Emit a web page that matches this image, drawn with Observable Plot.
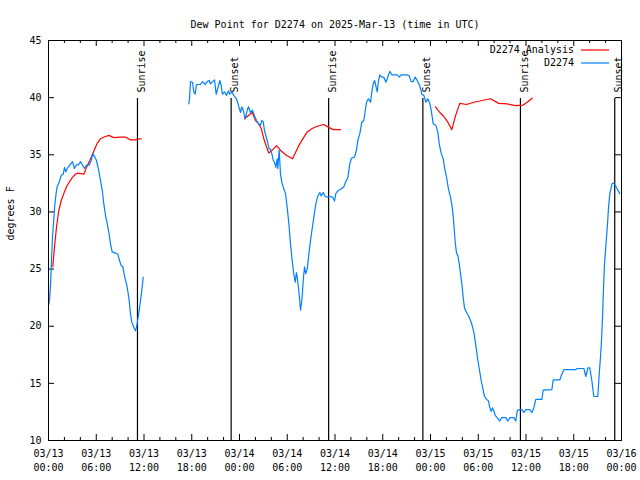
<!DOCTYPE html>
<html>
<head>
<meta charset="utf-8">
<script src="https://cdn.jsdelivr.net/npm/d3@7"></script>
<script src="https://cdn.jsdelivr.net/npm/@observablehq/plot@0.6"></script>
<style>
  html, body { margin: 0; padding: 0; background: white; }
</style>
</head>
<body>
<div id="chart"></div>
<script>
// ---- Data (hours after 2025-03-13 00:00 UTC, dew point in degrees F) ----
const titleText = "Dew Point for D2274 on 2025-Mar-13 (time in UTC)";
const yLabelText = "degrees F";
const seriesNames = ["D2274 Analysis", "D2274"];
const seriesColors = ["#ff0000", "#0080ff"];

const analysisSeg1 = [[0.54,25.2],[0.75,26.9],[1.01,28.7],[1.29,30.1],[1.60,31.0],[1.92,31.6],[2.26,32.2],[2.60,32.6],[2.98,33.0],[3.39,33.3],[3.68,33.4],[4.44,33.3],[4.78,33.9],[5.19,34.5],[5.69,35.3],[6.12,36.0],[6.53,36.4],[7.16,36.6],[7.58,36.7],[8.21,36.5],[9.05,36.55],[9.68,36.55],[10.30,36.3],[10.93,36.3],[11.35,36.4],[11.65,36.4]];
const analysisSeg2 = [[24.63,38.15],[25.04,38.4],[25.60,38.7],[26.01,38.0],[26.43,37.7],[26.73,37.3],[27.06,36.4],[27.39,35.7],[27.68,35.15],[28.11,35.4],[28.65,35.8],[29.15,35.4],[29.78,35.0],[30.66,34.65],[31.04,35.2],[31.45,35.8],[31.88,36.3],[32.51,37.0],[33.14,37.3],[33.76,37.5],[34.59,37.65],[35.22,37.4],[35.78,37.2],[36.69,37.2]];
const analysisSeg3 = [[48.63,39.2],[49.17,38.7],[49.67,38.35],[50.18,37.85],[50.68,37.2],[51.14,38.4],[51.68,39.5],[52.53,39.4],[53.44,39.6],[54.50,39.75],[55.54,39.9],[56.58,39.5],[57.64,39.45],[58.68,39.3],[59.65,39.35],[60.15,39.6],[60.78,39.95]];

const stationSeg1 = [[0.04,21.9],[0.16,22.5],[0.29,24.1],[0.38,25.75],[0.50,27.8],[0.67,29.4],[0.79,30.6],[0.97,31.7],[1.09,32.2],[1.34,32.6],[1.60,33.2],[1.85,33.3],[2.01,33.9],[2.17,33.5],[2.35,33.8],[2.68,34.1],[3.02,34.4],[3.27,33.8],[3.52,34.15],[3.77,34.1],[4.02,34.4],[4.27,34.1],[4.52,33.8],[4.78,34.1],[5.11,34.1],[5.37,34.5],[5.57,35.1],[5.82,34.8],[6.03,34.5],[6.32,33.6],[6.53,32.75],[6.75,31.9],[6.95,30.7],[7.16,29.7],[7.38,29.0],[7.58,28.2],[7.79,27.2],[8.00,26.5],[8.42,26.4],[8.71,26.3],[8.92,25.75],[9.14,25.3],[9.34,25.2],[9.55,24.4],[9.80,23.7],[9.96,23.1],[10.14,22.25],[10.30,21.1],[10.47,20.35],[10.72,19.9],[10.93,19.6],[11.06,19.9],[11.22,20.6],[11.40,21.4],[11.56,22.25],[11.72,23.1],[11.90,24.3]];
const stationSeg2 = [[17.63,39.45],[17.72,39.9],[17.84,41.4],[18.10,41.35],[18.26,40.5],[18.43,40.3],[18.60,41.15],[19.10,41.15],[19.35,41.4],[19.69,41.15],[19.94,41.4],[20.19,41.5],[20.36,41.2],[20.61,41.4],[20.86,41.55],[21.07,40.3],[21.27,40.8],[21.53,41.5],[21.70,41.05],[21.86,40.3],[22.12,40.5],[22.37,40.2],[22.62,40.6],[22.78,40.3],[23.03,40.5],[23.28,40.2],[23.62,39.9],[23.88,39.3],[24.13,38.7],[24.29,39.2],[24.47,38.9],[24.72,38.15],[24.97,38.9],[25.13,39.2],[25.38,38.7],[25.63,38.9],[25.89,38.4],[26.14,38.0],[26.39,37.7],[26.64,37.6],[26.80,38.0],[26.98,37.9],[27.14,37.1],[27.31,36.7],[27.48,36.25],[27.73,35.5],[27.90,35.5],[28.06,35.1],[28.24,34.5],[28.40,34.35],[28.56,33.9],[28.74,34.65],[28.81,33.8],[28.99,35.4],[29.15,33.3],[29.32,32.6],[29.57,32.0],[29.78,31.6],[29.99,30.4],[30.20,29.0],[30.41,27.2],[30.62,25.75],[30.82,24.6],[31.00,23.85],[31.16,24.7],[31.33,23.85],[31.50,22.8],[31.67,21.4],[31.83,22.25],[32.01,24.0],[32.17,25.2],[32.33,24.6],[32.51,25.0],[32.67,26.0],[32.92,27.5],[33.17,28.7],[33.34,29.55],[33.59,30.7],[33.84,31.4],[34.09,31.7],[34.27,31.4],[34.52,31.7],[34.77,31.35],[35.02,31.3],[35.35,31.35],[35.69,31.3],[35.94,30.95],[36.10,31.6],[36.44,31.9],[36.78,32.0],[37.11,32.2],[37.32,32.6],[37.61,33.0],[37.86,34.2],[38.07,34.7],[38.45,34.8],[38.70,35.4],[38.87,36.25],[39.12,36.85],[39.37,37.85],[39.62,38.0],[39.96,39.6],[40.21,39.9],[40.46,39.6],[40.63,40.5],[40.80,41.2],[40.97,41.5],[41.13,41.05],[41.31,40.5],[41.47,41.5],[41.63,42.0],[41.88,41.8],[42.13,41.8],[42.39,41.35],[42.64,41.8],[42.89,42.3],[43.14,42.0],[43.82,42.0],[44.07,41.8],[44.32,42.0],[45.07,42.0],[45.33,41.9],[45.58,41.4],[45.83,41.4],[46.08,41.8],[46.33,41.5],[46.58,41.15],[46.75,40.8],[46.91,40.3],[47.16,40.2],[47.41,39.6],[47.66,39.9],[47.91,39.5],[48.09,38.9],[48.34,37.7],[48.67,37.6],[48.92,37.0],[49.10,35.95],[49.35,35.1],[49.60,34.65],[49.76,33.9],[50.01,33.05],[50.26,32.0],[50.52,31.3],[50.73,30.4],[50.86,29.55],[50.98,28.5],[51.11,27.3],[51.27,26.4],[51.43,26.2],[51.61,25.5],[51.77,24.6],[51.94,23.7],[52.11,22.5],[52.27,21.6],[52.53,21.2],[52.78,20.9],[53.03,20.5],[53.24,20.06],[53.44,19.5],[53.66,18.5],[53.87,17.4],[54.12,16.3],[54.37,15.25],[54.62,14.4],[54.79,13.85],[55.04,13.6],[55.29,13.45],[55.45,12.9],[55.63,12.55],[55.79,12.85],[55.96,12.6],[56.13,12.2],[56.38,12.0],[56.71,11.7],[56.96,12.0],[57.46,12.0],[57.72,11.7],[57.97,12.0],[58.47,12.0],[58.72,11.7],[58.90,12.6],[59.15,12.7],[59.48,12.7],[59.73,12.45],[59.98,12.7],[60.48,12.7],[60.73,12.45],[60.98,12.85],[61.23,13.6],[61.99,13.6],[62.16,14.4],[63.25,14.45],[63.42,15.3],[64.25,15.3],[64.50,15.8],[64.76,16.2],[66.26,16.2],[66.44,16.3],[67.27,16.3],[67.52,15.6],[67.77,16.35],[68.02,16.35],[68.27,15.25],[68.52,13.85],[69.02,13.85],[69.20,15.8],[69.36,17.3],[69.49,18.75],[69.62,20.9],[69.74,23.4],[69.87,25.5],[69.99,26.6],[70.12,27.8],[70.25,29.0],[70.37,30.4],[70.53,31.6],[70.83,32.5],[71.03,32.5],[71.25,32.3],[71.46,32.0],[71.79,31.6]];

const sunEventHours = [11.18, 22.95, 35.2, 47.04, 59.3, 71.15];
const sunEventNames = ["Sunrise", "Sunset", "Sunrise", "Sunset", "Sunrise", "Sunset"];

const majorTickHours = [0, 6, 12, 18, 24, 30, 36, 42, 48, 54, 60, 66, 72];
const minorTickHours = [2, 4, 8, 10, 14, 16, 20, 22, 26, 28, 32, 34, 38, 40, 44, 46, 50, 52, 56, 58, 62, 64, 68, 70];
const yTickValues = [10, 15, 20, 25, 30, 35, 40, 45];

// ---- Build ----
const t0 = Date.UTC(2025, 2, 13);
const toDate = h => new Date(t0 + h * 3600000);
const flatten = segs => segs.flatMap((s, i) => s.map(([h, v]) => ({date: toDate(h), v, seg: i})));
const analysis = flatten([analysisSeg1, analysisSeg2, analysisSeg3]);
const station = flatten([stationSeg1, stationSeg2]);
const events = sunEventHours.map((h, i) => ({date: toDate(h), name: sunEventNames[i]}));
const fmt = d3.utcFormat("%m/%d\n%H:%M");

const W = 640, H = 480, mL = 48, mR = 19, mT = 40, mB = 40;
const fw = W - mL - mR, fh = H - mT - mB;

const chart = Plot.plot({
  width: W, height: H,
  marginLeft: mL, marginRight: mR, marginTop: mT, marginBottom: mB,
  style: {fontFamily: "'DejaVu Sans Mono', monospace", fontSize: "10px", background: "white", color: "black"},
  x: {type: "utc", domain: [toDate(0), toDate(72)], axis: null},
  y: {domain: [10, 45], axis: null},
  marks: [
    // tick marks (inward, gnuplot style)
    Plot.tickX(majorTickHours, {x: toDate, insetTop: fh - 6, stroke: "black"}),
    Plot.tickX(majorTickHours, {x: toDate, insetBottom: fh - 6, stroke: "black"}),
    Plot.tickX(minorTickHours, {x: toDate, insetTop: fh - 3, stroke: "black"}),
    Plot.tickX(minorTickHours, {x: toDate, insetBottom: fh - 3, stroke: "black"}),
    Plot.tickY(yTickValues, {y: d => d, insetRight: fw - 6, stroke: "black"}),
    Plot.tickY(yTickValues, {y: d => d, insetLeft: fw - 6, stroke: "black"}),
    // sunrise / sunset lines
    Plot.ruleX(events, {x: "date", insetTop: 58, stroke: "black", strokeWidth: 1.2}),
    Plot.text(events, {x: "date", text: "name", frameAnchor: "top", dy: 52, rotate: -90, textAnchor: "start", fill: "black"}),
    // series
    Plot.line(analysis, {x: "date", y: "v", z: "seg", stroke: seriesColors[0], strokeWidth: 1.2}),
    Plot.line(station, {x: "date", y: "v", z: "seg", stroke: seriesColors[1], strokeWidth: 1.2}),
    // tick labels
    Plot.text(majorTickHours, {x: toDate, text: h => fmt(toDate(h)), frameAnchor: "bottom", dy: 7, lineAnchor: "top", lineHeight: 1.4, fill: "black"}),
    Plot.text(yTickValues, {y: d => d, text: d => String(d), frameAnchor: "left", dx: -7, textAnchor: "end", fill: "black"}),
    // axis label & title
    Plot.text([yLabelText], {text: d => d, frameAnchor: "left", dx: -38, rotate: -90, fill: "black"}),
    Plot.text([titleText], {text: d => d, frameAnchor: "top", dy: -20, fill: "black"}),
    Plot.frame({stroke: "black"})
  ]
});

// legend (top right, gnuplot style)
const svg = d3.select(chart);
const lg = svg.append("g").attr("font-family", "'DejaVu Sans Mono', monospace").attr("font-size", 10);
seriesNames.forEach((name, i) => {
  const y = mT + 10 + i * 13;
  lg.append("text").attr("x", W - mR - 47).attr("y", y).attr("dy", "0.32em")
    .attr("text-anchor", "end").attr("fill", "black").text(name);
  lg.append("line").attr("x1", W - mR - 40).attr("x2", W - mR - 12)
    .attr("y1", y).attr("y2", y).attr("stroke", seriesColors[i]).attr("stroke-width", 1.2);
});

document.getElementById("chart").appendChild(chart);
</script>
</body>
</html>
